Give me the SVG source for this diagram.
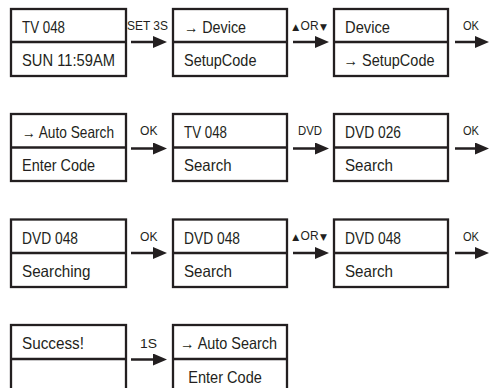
<svg xmlns="http://www.w3.org/2000/svg" width="489" height="388" viewBox="0 0 489 388">
<style>
.box{fill:#fff;stroke:#231f20;stroke-width:2.3}
.div{stroke:#231f20;stroke-width:2.3}
.t{font-family:"Liberation Sans","DejaVu Sans",sans-serif;font-size:16.5px;fill:#231f20}
.l{font-family:"Liberation Sans","DejaVu Sans",sans-serif;font-size:13.5px;fill:#231f20}
.s{font-family:"DejaVu Sans",sans-serif;font-size:9px}
.a{stroke:#231f20;stroke-width:2.5;fill:none}
</style>
<defs>
<marker id="ah" viewBox="0 0 14 12" refX="4" refY="6" markerWidth="14" markerHeight="12" markerUnits="userSpaceOnUse" orient="auto">
<path d="M0,0 L14,6 L0,12 z" fill="#231f20"/>
</marker>
</defs>
<rect width="489" height="388" fill="#fff"/>

<g id="connectors">
<line class="a" x1="131" y1="42" x2="157" y2="42" marker-end="url(#ah)"/>
<text class="l" x="127" y="30" textLength="41" lengthAdjust="spacingAndGlyphs">SET 3S</text>
<line class="a" x1="293" y1="42" x2="319" y2="42" marker-end="url(#ah)"/>
<text class="l" y="29.5"><tspan class="s" x="292.3">▲</tspan><tspan x="300.6" textLength="18" lengthAdjust="spacingAndGlyphs">OR</tspan><tspan class="s" x="320">▼</tspan></text>
<line class="a" x1="455" y1="42" x2="479" y2="42" marker-end="url(#ah)"/>
<text class="l" x="463" y="29.5" textLength="16" lengthAdjust="spacingAndGlyphs">OK</text>

<line class="a" x1="131" y1="148.5" x2="157" y2="148.5" marker-end="url(#ah)"/>
<text class="l" x="140" y="135" textLength="17.5" lengthAdjust="spacingAndGlyphs">OK</text>
<line class="a" x1="293" y1="148.5" x2="319" y2="148.5" marker-end="url(#ah)"/>
<text class="l" x="298" y="135" textLength="24" lengthAdjust="spacingAndGlyphs">DVD</text>
<line class="a" x1="455" y1="148.5" x2="479" y2="148.5" marker-end="url(#ah)"/>
<text class="l" x="463" y="135" textLength="16" lengthAdjust="spacingAndGlyphs">OK</text>

<line class="a" x1="131" y1="253" x2="157" y2="253" marker-end="url(#ah)"/>
<text class="l" x="140" y="240.5" textLength="17.5" lengthAdjust="spacingAndGlyphs">OK</text>
<line class="a" x1="293" y1="253" x2="319" y2="253" marker-end="url(#ah)"/>
<text class="l" y="240"><tspan class="s" x="292.3">▲</tspan><tspan x="300.6" textLength="18" lengthAdjust="spacingAndGlyphs">OR</tspan><tspan class="s" x="320">▼</tspan></text>
<line class="a" x1="455" y1="253" x2="479" y2="253" marker-end="url(#ah)"/>
<text class="l" x="463" y="240.5" textLength="16" lengthAdjust="spacingAndGlyphs">OK</text>

<line class="a" x1="131" y1="359.5" x2="157" y2="359.5" marker-end="url(#ah)"/>
<text class="l" x="140" y="348" textLength="17" lengthAdjust="spacingAndGlyphs">1S</text>
</g>

<g id="n1">
<rect class="box" x="11" y="9" width="115" height="67"/>
<line class="div" x1="11" y1="42" x2="126" y2="42"/>
<text class="t" x="22" y="32.5" textLength="43" lengthAdjust="spacingAndGlyphs">TV 048</text>
<text class="t" x="22" y="65.5" textLength="93" lengthAdjust="spacingAndGlyphs">SUN 11:59AM</text>
</g>
<g id="n2">
<rect class="box" x="173" y="9" width="114" height="67"/>
<line class="div" x1="173" y1="42" x2="287" y2="42"/>
<text class="t" x="184" y="32.5" textLength="62" lengthAdjust="spacingAndGlyphs">→ Device</text>
<text class="t" x="184" y="65.5" textLength="72.5" lengthAdjust="spacingAndGlyphs">SetupCode</text>
</g>
<g id="n3">
<rect class="box" x="334" y="9" width="114" height="67"/>
<line class="div" x1="334" y1="42" x2="448" y2="42"/>
<text class="t" x="345" y="32.5" textLength="45" lengthAdjust="spacingAndGlyphs">Device</text>
<text class="t" x="343.5" y="65.5" textLength="91" lengthAdjust="spacingAndGlyphs">→ SetupCode</text>
</g>

<g id="n4">
<rect class="box" x="11" y="114" width="115" height="67"/>
<line class="div" x1="11" y1="147.5" x2="126" y2="147.5"/>
<text class="t" x="22" y="138" textLength="92" lengthAdjust="spacingAndGlyphs">→ Auto Search</text>
<text class="t" x="22" y="171" textLength="73" lengthAdjust="spacingAndGlyphs">Enter Code</text>
</g>
<g id="n5">
<rect class="box" x="173" y="114" width="114" height="67"/>
<line class="div" x1="173" y1="147.5" x2="287" y2="147.5"/>
<text class="t" x="184" y="138" textLength="43" lengthAdjust="spacingAndGlyphs">TV 048</text>
<text class="t" x="184" y="171" textLength="47.5" lengthAdjust="spacingAndGlyphs">Search</text>
</g>
<g id="n6">
<rect class="box" x="334" y="114" width="114" height="67"/>
<line class="div" x1="334" y1="147.5" x2="448" y2="147.5"/>
<text class="t" x="345" y="138" textLength="56" lengthAdjust="spacingAndGlyphs">DVD 026</text>
<text class="t" x="345" y="171" textLength="48" lengthAdjust="spacingAndGlyphs">Search</text>
</g>

<g id="n7">
<rect class="box" x="11" y="219.5" width="115" height="67.5"/>
<line class="div" x1="11" y1="253" x2="126" y2="253"/>
<text class="t" x="22" y="243.5" textLength="56" lengthAdjust="spacingAndGlyphs">DVD 048</text>
<text class="t" x="22" y="276.5" textLength="68.5" lengthAdjust="spacingAndGlyphs">Searching</text>
</g>
<g id="n8">
<rect class="box" x="173" y="219.5" width="114" height="67.5"/>
<line class="div" x1="173" y1="253" x2="287" y2="253"/>
<text class="t" x="184" y="243.5" textLength="56" lengthAdjust="spacingAndGlyphs">DVD 048</text>
<text class="t" x="184" y="276.5" textLength="48" lengthAdjust="spacingAndGlyphs">Search</text>
</g>
<g id="n9">
<rect class="box" x="334" y="219.5" width="114" height="67.5"/>
<line class="div" x1="334" y1="253" x2="448" y2="253"/>
<text class="t" x="345" y="243.5" textLength="56" lengthAdjust="spacingAndGlyphs">DVD 048</text>
<text class="t" x="345" y="276.5" textLength="48" lengthAdjust="spacingAndGlyphs">Search</text>
</g>

<g id="n10">
<rect class="box" x="11" y="325" width="115" height="75"/>
<line class="div" x1="11" y1="359" x2="126" y2="359"/>
<text class="t" x="22" y="349" textLength="62" lengthAdjust="spacingAndGlyphs">Success!</text>
</g>
<g id="n11">
<rect class="box" x="173" y="325" width="114" height="75"/>
<line class="div" x1="173" y1="359" x2="287" y2="359"/>
<text class="t" x="180" y="349" textLength="97" lengthAdjust="spacingAndGlyphs">→ Auto Search</text>
<text class="t" x="188.3" y="383" textLength="73.5" lengthAdjust="spacingAndGlyphs">Enter Code</text>
</g>
</svg>
